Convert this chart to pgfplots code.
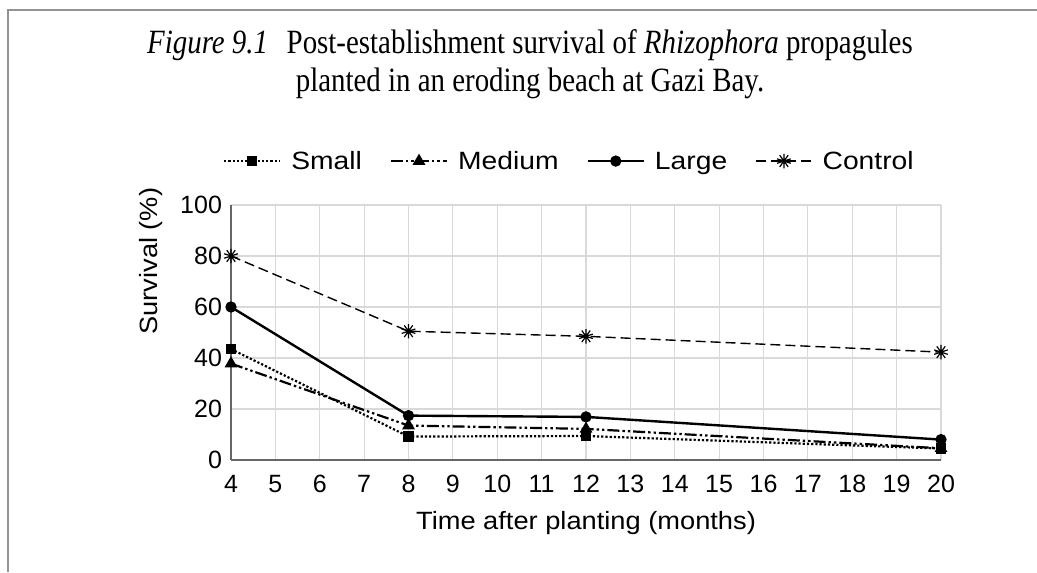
\documentclass[border=0pt]{standalone}
\usepackage{fontspec}
\setmainfont{Liberation Serif}
\newfontfamily\titlefont[FakeStretch=0.85]{Liberation Serif}
\newfontfamily\sans{Liberation Sans}
\newfontfamily\sanswide[FakeStretch=1.09]{Liberation Sans}
\newfontfamily\sanslegend[FakeStretch=1.13]{Liberation Sans}
\usepackage{pgfplots}
\pgfplotsset{compat=1.18}
\usetikzlibrary{plotmarks}
\begin{document}
\begin{tikzpicture}
\useasboundingbox (0,0) rectangle (518.5pt,286pt);
\draw[gray!85, line width=0.8pt] (4pt,0) -- (4pt,281pt) -- (518.5pt,281pt);
\node[align=center, font=\titlefont\fontsize{17}{19}\selectfont] at (265pt,254pt)
  {\textit{Figure 9.1}\,\, Post-establishment survival of \textit{Rhizophora} propagules\\planted in an eroding beach at Gazi Bay.};
\begin{axis}[
  at={(115.5pt,56pt)}, anchor=south west,
  scale only axis, width=355pt, height=127.5pt,
  xmin=4, xmax=20, ymin=0, ymax=100,
  xtick={4,5,...,20}, ytick={0,20,...,100},
  axis x line*=bottom, axis y line*=left,
  axis line style={gray!80!black, line width=0.7pt},
  major tick length=0pt,
  grid=major, major grid style={gray!30, line width=0.6pt},
  ticklabel style={font=\sans\fontsize{12.5}{14}\selectfont},
  xticklabel style={text height=9pt, text depth=0pt, yshift=-3.5pt},
  yticklabel style={xshift=-1pt},
  /pgf/number format/assume math mode=true,
  xlabel={Time after planting (months)}, ylabel={Survival (\%)},
  label style={font=\sanswide\fontsize{12.5}{14}\selectfont},
  xlabel style={yshift=-3pt},
  ylabel style={at={(ticklabel cs:0.78)}, yshift=2pt},
  clip=false,
  legend columns=4,
  legend style={at={(0.478,1.095)}, anchor=south, draw=none, fill=none,
    font=\sanslegend\fontsize{12.5}{14}\selectfont,
    /tikz/every odd column/.append style={column sep=3pt},
    /tikz/every even column/.append style={column sep=12pt}},
  legend image code/.code={\draw[mark repeat=2,mark phase=2,#1] plot coordinates {(0cm,0cm) (14pt,0cm) (28pt,0cm)};},
]
\addplot[black, line width=1.1pt, densely dotted, mark=square*, mark size=2pt, mark options={solid}]
  coordinates {(4,43.5) (8,9.2) (12,9.4) (20,4.5)};
\addlegendentry{\strut Small}
\addplot[black, line width=1.1pt, dash pattern=on 6pt off 1.5pt on 1.2pt off 1.5pt on 1.2pt off 1.5pt, mark=triangle*, mark size=2.6pt, mark options={solid}]
  coordinates {(4,37.8) (8,13.5) (12,12.2) (20,4.6)};
\addlegendentry{\strut Medium}
\addplot[black, line width=1.2pt, mark=*, mark size=2.2pt]
  coordinates {(4,60) (8,17.4) (12,16.9) (20,8)};
\addlegendentry{\strut Large}
\addplot[black, line width=0.7pt, dash pattern=on 5pt off 2.5pt, mark=10-pointed star, mark size=3.6pt, mark options={solid, fill=white, draw=black, line width=0.6pt}]
  coordinates {(4,80) (8,50.5) (12,48.5) (20,42.3)};
\addlegendentry{\strut Control}
\end{axis}
\end{tikzpicture}
\end{document}
